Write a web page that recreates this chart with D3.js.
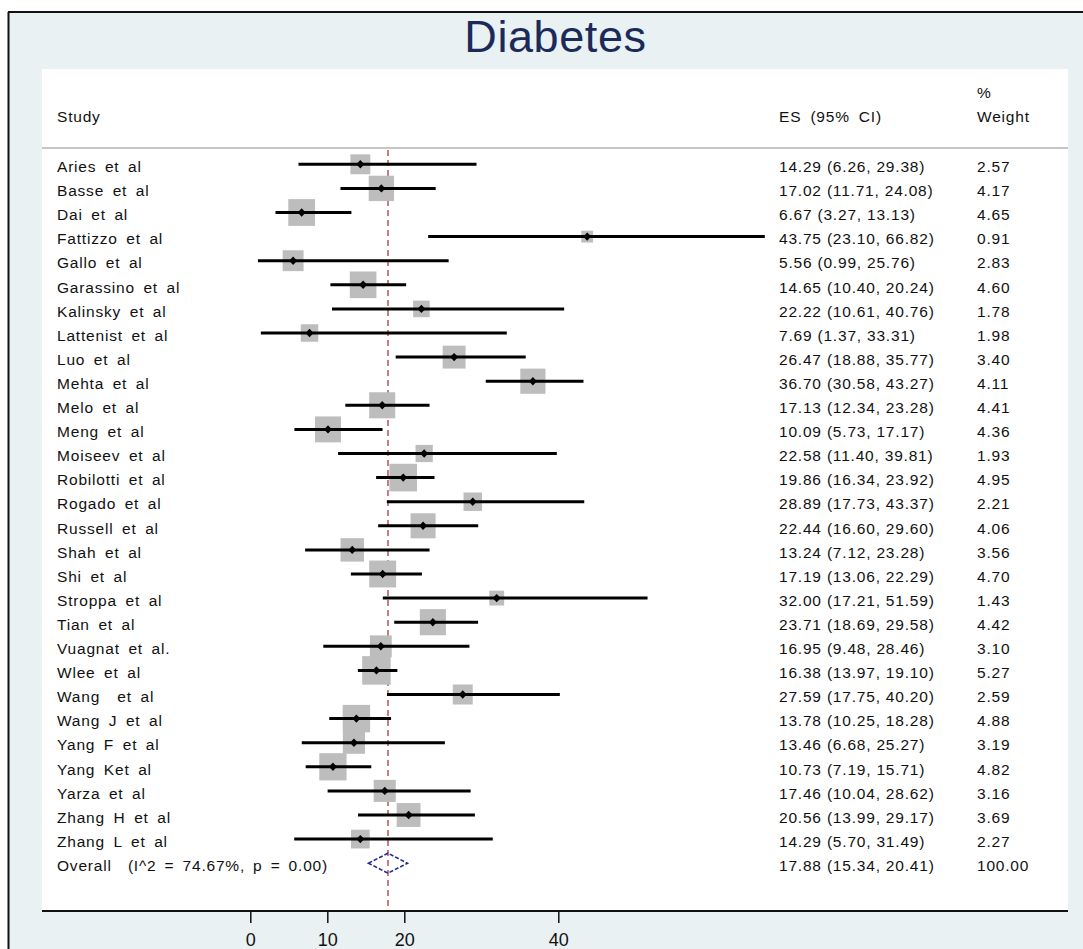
<!DOCTYPE html>
<html>
<head>
<meta charset="utf-8">
<script src="https://cdn.jsdelivr.net/npm/d3@7"></script>
<style>
  html, body { margin: 0; padding: 0; background: #ffffff; }
  svg { display: block; }
  text { font-family: "Liberation Sans", Arial, sans-serif; white-space: pre; }
</style>
</head>
<body>
<svg id="chart" width="1083" height="949"></svg>
<script>
// ---- data ----
const titleText = "Diabetes";
const studies = [
  "Aries et al", "Basse et al", "Dai et al", "Fattizzo et al", "Gallo et al",
  "Garassino et al", "Kalinsky et al", "Lattenist et al", "Luo et al", "Mehta et al",
  "Melo et al", "Meng et al", "Moiseev et al", "Robilotti et al", "Rogado et al",
  "Russell et al", "Shah et al", "Shi et al", "Stroppa et al", "Tian et al",
  "Vuagnat et al.", "Wlee et al", "Wang  et al", "Wang J et al", "Yang F et al",
  "Yang Ket al", "Yarza et al", "Zhang H et al", "Zhang L et al"
];
const es = [14.29, 17.02, 6.67, 43.75, 5.56, 14.65, 22.22, 7.69, 26.47, 36.70,
  17.13, 10.09, 22.58, 19.86, 28.89, 22.44, 13.24, 17.19, 32.00, 23.71,
  16.95, 16.38, 27.59, 13.78, 13.46, 10.73, 17.46, 20.56, 14.29];
const lower = [6.26, 11.71, 3.27, 23.10, 0.99, 10.40, 10.61, 1.37, 18.88, 30.58,
  12.34, 5.73, 11.40, 16.34, 17.73, 16.60, 7.12, 13.06, 17.21, 18.69,
  9.48, 13.97, 17.75, 10.25, 6.68, 7.19, 10.04, 13.99, 5.70];
const upper = [29.38, 24.08, 13.13, 66.82, 25.76, 20.24, 40.76, 33.31, 35.77, 43.27,
  23.28, 17.17, 39.81, 23.92, 43.37, 29.60, 23.28, 22.29, 51.59, 29.58,
  28.46, 19.10, 40.20, 18.28, 25.27, 15.71, 28.62, 29.17, 31.49];
const weights = [2.57, 4.17, 4.65, 0.91, 2.83, 4.60, 1.78, 1.98, 3.40, 4.11,
  4.41, 4.36, 1.93, 4.95, 2.21, 4.06, 3.56, 4.70, 1.43, 4.42,
  3.10, 5.27, 2.59, 4.88, 3.19, 4.82, 3.16, 3.69, 2.27];
const overallLabel = "Overall  (I^2 = 74.67%, p = 0.00)";
const overall = [17.88, 15.34, 20.41];   // ES, lower, upper
const overallWeight = 100.00;
const xTicks = [0, 10, 20, 40];
const headers = ["Study", "ES (95% CI)", "%", "Weight"];

// ---- layout ----
const W = 1083, H = 949;
const svg = d3.select("#chart");
const panel = {left: 42, right: 1068, top: 69, bottom: 911};
const colES = 779, colW = 977, colStudy = 57;

// outer background + frame
svg.append("rect").attr("x", 8).attr("y", 12).attr("width", W - 8).attr("height", H - 12)
  .attr("fill", "#e9f1f3");
svg.append("line").attr("x1", 8).attr("x2", W).attr("y1", 12).attr("y2", 12)
  .attr("stroke", "#111").attr("stroke-width", 2);
svg.append("line").attr("x1", 8.5).attr("x2", 8.5).attr("y1", 12).attr("y2", H)
  .attr("stroke", "#111").attr("stroke-width", 2);

// white plot panel
svg.append("rect").attr("x", panel.left).attr("y", panel.top)
  .attr("width", panel.right - panel.left).attr("height", panel.bottom - panel.top)
  .attr("fill", "#ffffff");

// title
svg.append("text").attr("x", 555.5).attr("y", 51.5).attr("text-anchor", "middle")
  .attr("font-size", 45).attr("letter-spacing", 0.6).attr("fill", "#1c2a5a").text(titleText);

// scales
const x = d3.scaleLinear().domain([0, 40]).range([250.3, 558.3]);
const rows = studies.concat([overallLabel]);
const y = d3.scalePoint().domain(d3.range(rows.length)).range([164.3, 863.2]);
const box = d3.scaleSqrt().domain([0, 5.27]).range([0, 28.5]);

const textStyle = sel => sel.attr("font-size", 15.5).attr("letter-spacing", 0.8).attr("fill", "#111");

// headers
svg.append("text").attr("x", colStudy).attr("y", 122).text(headers[0]).call(textStyle);
svg.append("text").attr("x", colES).attr("y", 122).attr("word-spacing", 4).text(headers[1]).call(textStyle);
svg.append("text").attr("x", colW).attr("y", 98).text(headers[2]).call(textStyle);
svg.append("text").attr("x", colW).attr("y", 122).text(headers[3]).call(textStyle);
svg.append("line").attr("x1", panel.left).attr("x2", panel.right).attr("y1", 148).attr("y2", 148)
  .attr("stroke", "#c6c6c6").attr("stroke-width", 2);

// reference (overall) dashed line
svg.append("line").attr("x1", x(overall[0])).attr("x2", x(overall[0]))
  .attr("y1", 150).attr("y2", panel.bottom)
  .attr("stroke", "#b5545c").attr("stroke-width", 1.5).attr("stroke-dasharray", "6,4");

// study rows
const data = studies.map((s, i) => ({s, es: es[i], lo: lower[i], hi: upper[i], w: weights[i], i}));
const g = svg.append("g");
g.selectAll("rect.box").data(data).join("rect").attr("class", "box")
  .attr("x", d => x(d.es) - box(d.w) / 2).attr("y", d => y(d.i) - box(d.w) / 2)
  .attr("width", d => box(d.w)).attr("height", d => box(d.w)).attr("fill", "#bdbdbd");
g.selectAll("line.ci").data(data).join("line").attr("class", "ci")
  .attr("x1", d => x(d.lo)).attr("x2", d => x(d.hi))
  .attr("y1", d => y(d.i)).attr("y2", d => y(d.i))
  .attr("stroke", "#000").attr("stroke-width", 3);
g.selectAll("path.pt").data(data).join("path").attr("class", "pt")
  .attr("d", d => {
    const cx = x(d.es), cy = y(d.i);
    return `M${cx - 4},${cy}L${cx},${cy - 4.2}L${cx + 4},${cy}L${cx},${cy + 4.2}Z`;
  }).attr("fill", "#000");

// row texts
g.selectAll("text.lab").data(data).join("text").attr("class", "lab")
  .attr("x", colStudy).attr("y", d => y(d.i) + 7.7).attr("word-spacing", 3.5)
  .text(d => d.s).call(textStyle);
g.selectAll("text.es").data(data).join("text").attr("class", "es")
  .attr("x", colES).attr("y", d => y(d.i) + 7.7)
  .text(d => `${d.es.toFixed(2)} (${d.lo.toFixed(2)}, ${d.hi.toFixed(2)})`).call(textStyle);
g.selectAll("text.wt").data(data).join("text").attr("class", "wt")
  .attr("x", colW).attr("y", d => y(d.i) + 7.7)
  .text(d => d.w.toFixed(2)).call(textStyle);

// overall row
const yo = y(rows.length - 1);
svg.append("path")
  .attr("d", `M${x(overall[1])},${yo}L${x(overall[0])},${yo - 10}L${x(overall[2])},${yo}L${x(overall[0])},${yo + 10}Z`)
  .attr("fill", "none").attr("stroke", "#1f2a8f").attr("stroke-width", 1.6).attr("stroke-dasharray", "4,2");
svg.append("text").attr("x", colStudy).attr("y", yo + 7.7).attr("word-spacing", 3)
  .text(overallLabel).call(textStyle);
svg.append("text").attr("x", colES).attr("y", yo + 7.7)
  .text(`${overall[0].toFixed(2)} (${overall[1].toFixed(2)}, ${overall[2].toFixed(2)})`).call(textStyle);
svg.append("text").attr("x", colW).attr("y", yo + 7.7)
  .text(overallWeight.toFixed(2)).call(textStyle);

// axis
svg.append("line").attr("x1", panel.left).attr("x2", panel.right)
  .attr("y1", panel.bottom).attr("y2", panel.bottom)
  .attr("stroke", "#111").attr("stroke-width", 2);
const axis = svg.append("g").attr("transform", `translate(0,${panel.bottom})`)
  .call(d3.axisBottom(x).tickValues(xTicks).tickSize(12).tickPadding(10).tickFormat(d3.format("d")));
axis.select(".domain").remove();
axis.selectAll(".tick line").attr("stroke", "#111").attr("stroke-width", 1.5);
axis.selectAll(".tick text").attr("font-size", 18).attr("fill", "#111")
  .attr("font-family", "Liberation Sans, Arial, sans-serif");
</script>
</body>
</html>
